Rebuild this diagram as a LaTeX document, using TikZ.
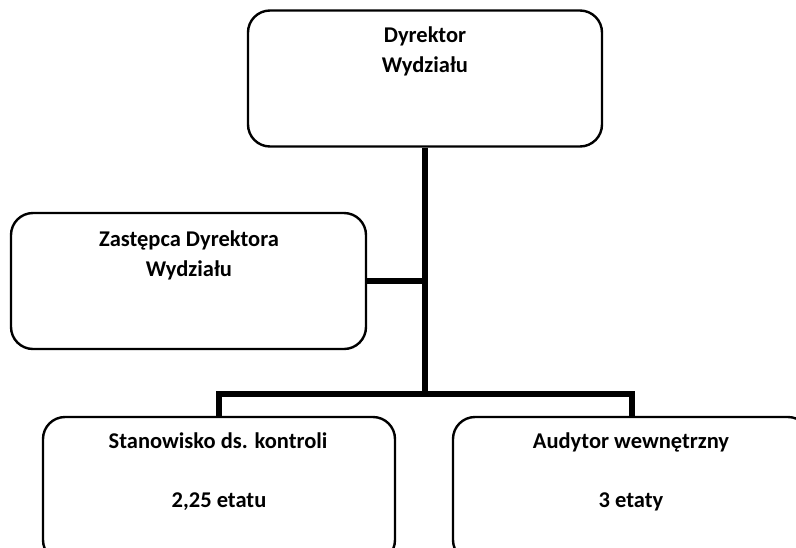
\documentclass[tikz,border=0pt]{standalone}
\usepackage{fontspec}
\setmainfont{Carlito}
\begin{document}
\begin{tikzpicture}[x=1pt,y=-1pt,
  box/.style={draw=black, line width=2.4pt, rounded corners=22pt, fill=white, inner sep=0pt},
  conn/.style={draw=black, line width=6pt},
  lbl/.style={font=\bfseries\fontsize{22.5}{27}\selectfont, anchor=base, inner sep=0pt}]
\useasboundingbox (0,0) rectangle (796,547);
\fill[white] (0,0) rectangle (796,547);
\clip (0,0) rectangle (796,547);

% connectors
\coordinate (bus) at (425,394);
\node[box, minimum width=354pt, minimum height=136pt] (dyr) at (425,78.5) {};
\node[box, minimum width=355pt, minimum height=136pt] (zast) at (188.5,281) {};
\node[box, minimum width=352pt, minimum height=145pt] (stan) at (219,489.5) {};
\node[box, minimum width=357pt, minimum height=145pt] (aud) at (631.5,489.5) {};

\draw[conn] (dyr.south) -- (bus);
\draw[conn] (zast.east) -- (zast.east -| dyr.south);
\draw[conn] (stan.north) |- (bus) -| (aud.north);

% texts
\node[lbl] (t1) at (425,42) {Dyrektor};
\node[lbl] (t2) at (425,72) {Wydziału};
\node[lbl] (t3) at (189,246) {Zastępca Dyrektora};
\node[lbl] (t4) at (189,276) {Wydziału};
\node[lbl] (t5) at (218,448) {Stanowisko ds. kontroli};
\node[lbl] (t6) at (219,507) {2,25 etatu};
\node[lbl] (t7) at (631,448) {Audytor wewnętrzny};
\node[lbl] (t8) at (631,507) {3 etaty};
\end{tikzpicture}
\end{document}
